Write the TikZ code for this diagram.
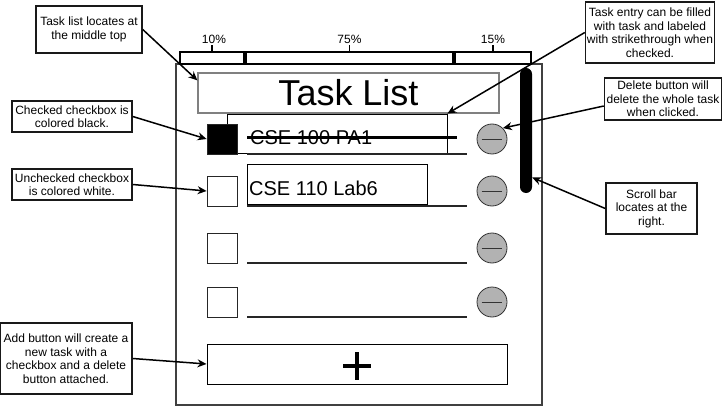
\documentclass[tikz,border=0pt]{standalone}
\usepackage{fontspec}
\setmainfont{Liberation Sans}
\usetikzlibrary{arrows.meta}

\begin{document}
\begin{tikzpicture}[x=1pt,y=-1pt]
          \tikzstyle{callout}=[draw=black!90,line width=1.5pt,align=center,inner sep=0pt,font=\fontsize{12}{13.5}\selectfont]
          \tikzstyle{pointer}=[draw,line width=1.5pt,-{Stealth[length=9pt,width=8pt]}]
          \tikzstyle{segment}=[draw,line width=1.4pt,minimum height=12pt,inner sep=0pt]
          \tikzstyle{pct}=[anchor=south,inner sep=1pt,font=\fontsize{12}{13}\selectfont]
          \tikzstyle{chkbox}=[draw=black!85,line width=.8pt,minimum size=30pt,inner sep=0pt]
          \tikzstyle{delbtn}=[circle,draw=black!80,fill=black!30,line width=.8pt,minimum size=30pt,inner sep=0pt]
          \tikzstyle{entry}=[draw,line width=.8pt,inner sep=0pt]
          \tikzstyle{uline}=[draw=black!85,line width=1.6pt]
          \useasboundingbox (0,0) rectangle (727,406);
          \node[draw=black!75,line width=1.6pt,minimum width=366pt,minimum height=341pt] (frame) at (359,234.5) {};
          \node[segment,minimum width=64pt] (seg1) at (212,58) {};
          \node[segment,minimum width=207pt] (seg2) at (349.5,58) {};
          \node[segment,minimum width=76pt] (seg3) at (493,58) {};
          \node[pct] (p1) at (214,45) {10\%};
          \node[pct] (p2) at (349.5,45) {75\%};
          \node[pct] (p3) at (493,45) {15\%};
          \foreach \s in {1,2,3}{
            \draw[line width=1.4pt] (seg\s.north) -- (p\s.south -| seg\s.north);
            }
          \node[draw=black!50,line width=1.2pt,minimum width=301pt,minimum height=40pt,inner sep=0pt,font=\fontsize{36}{40}\selectfont] (title) at (348.5,93) {Task List};
          \node[entry,minimum width=220pt,minimum height=39pt] (entry1) at (337,133.5) {};
          \node[entry,minimum width=180pt,minimum height=40pt] (entry2) at (337,184) {};
          \node[anchor=west,inner sep=0pt,font=\fontsize{20}{24}\selectfont] (task1) at (250,138) {CSE 100 PA1};
          \node[anchor=west,inner sep=0pt,font=\fontsize{20}{24}\selectfont] (task2) at (249,188) {CSE 110 Lab6};
          \draw[line width=3pt] (247,138) -- (457,138);
          \foreach \i/\y/\c in {1/139/black,2/191/white,3/248/white,4/302/white}{
            \node[chkbox,fill=\c] (chk\i) at (222,\y) {};
            \node[delbtn] (del\i) at (492,\y) {};
            \draw[black!80,line width=.8pt] ([xshift=5pt]del\i.west) -- ([xshift=-5pt]del\i.east);
            \draw[uline] (247,\y+15) -- (467,\y+15);
            }
          \node[fill=black,rounded corners=6pt,minimum width=12pt,minimum height=125pt,inner sep=0pt] (scroll) at (526,130.5) {};
          \node[draw,line width=1pt,minimum width=300pt,minimum height=40pt] (add) at (357,364) {};
          \draw[line width=4.5pt] (343,366) -- (371,366) (357,352) -- (357,380);
          \node[callout,minimum width=106pt,minimum height=47pt] (c1) at (89,29.5) {Task list locates at\\the middle top};
          \node[callout,minimum width=120pt,minimum height=31pt] (c2) at (72,116.5) {Checked checkbox is\\colored black.};
          \node[callout,minimum width=120pt,minimum height=31pt] (c3) at (72,184.5) {Unchecked checkbox\\is colored white.};
          \node[callout,minimum width=129pt,minimum height=61pt] (c4) at (650,32.5) {Task entry can be filled\\with task and labeled\\with strikethrough when\\checked.};
          \node[callout,minimum width=117pt,minimum height=42pt] (c5) at (663,99) {Delete button will\\delete the whole task\\when clicked.};
          \node[callout,minimum width=91pt,minimum height=51pt] (c6) at (651.5,208.5) {Scroll bar\\locates at the\\right.};
          \node[callout,minimum width=132pt,minimum height=71pt] (c7) at (66,358.5) {Add button will create a\\new task with a\\checkbox and a delete\\button attached.};
          \draw[pointer] (c1.east) -- ([yshift=-8pt]title.north west);
          \draw[pointer] (c2.east) -- (chk1.west);
          \draw[pointer] (c3.east) -- (chk2.west);
          \draw[pointer] (c4.west) -- (entry1.north east);
          \draw[pointer] ([yshift=-7pt]c5.west) -- (del1.north east);
          \draw[pointer] (c6.west) -- ([yshift=-47pt]scroll.east);
          \draw[pointer] (c7.east) -- (add.west);
        \end{tikzpicture}
\end{document}
